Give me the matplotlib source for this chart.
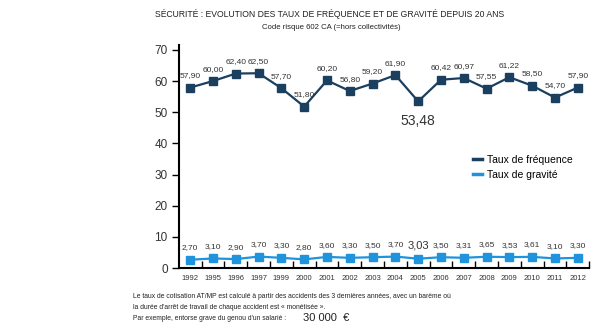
import matplotlib.pyplot as plt

years = ["1992", "1995", "1996", "1997", "1999", "2000", "2001", "2002", "2003",
         "2004", "2005", "2006", "2007", "2008", "2009", "2010", "2011", "2012"]
frequence = [57.90, 60.00, 62.40, 62.50, 57.70, 51.80, 60.20, 56.80, 59.20,
             61.90, 53.48, 60.42, 60.97, 57.55, 61.22, 58.50, 54.70, 57.90]
gravite = [2.70, 3.10, 2.90, 3.70, 3.30, 2.80, 3.60, 3.30, 3.50,
           3.70, 3.03, 3.50, 3.31, 3.65, 3.53, 3.61, 3.10, 3.30]

dark = "#1b3f5e"
light = "#1f93dc"
txt = "#333333"

plt.rcParams["font.family"] = ["Liberation Sans", "DejaVu Sans"]

fig = plt.figure(figsize=(6, 3.25), dpi=100)
ax = fig.add_axes([0.298, 0.175, 0.684, 0.686])

x = list(range(len(years)))
ax.plot(x, frequence, color=dark, lw=1.6, marker="s", ms=6, label="Taux de fréquence")
ax.plot(x, gravite, color=light, lw=1.6, marker="s", ms=6, label="Taux de gravité")


def fmt(v):
    return f"{v:.2f}".replace(".", ",")


for i, v in enumerate(frequence):
    if v == 53.48:
        ax.annotate(fmt(v), (i, v), xytext=(0, -9), textcoords="offset points",
                    ha="center", va="top", fontsize=10, color=txt)
    else:
        ax.annotate(fmt(v), (i, v), xytext=(0, 6), textcoords="offset points",
                    ha="center", va="bottom", fontsize=6, color=txt)

for i, v in enumerate(gravite):
    size = 8 if v == 3.03 else 6
    ax.annotate(fmt(v), (i, v), xytext=(0, 6), textcoords="offset points",
                ha="center", va="bottom", fontsize=size, color=txt)

ax.set_xlim(-0.5, len(years) - 0.5)
ax.set_ylim(0, 71.5)
ax.set_yticks(range(0, 71, 10))
ax.tick_params(axis="y", direction="out", length=5, width=1, labelsize=8.5,
               labelcolor=txt, pad=3)
ax.set_xticks(x)
ax.set_xticklabels(years, fontsize=5.5, color=txt)
ax.set_xticks([i + 0.5 for i in x], minor=True)
ax.tick_params(axis="x", which="major", length=0, pad=5)
ax.tick_params(axis="x", which="minor", direction="in", length=5, width=1)
for s in ["top", "right"]:
    ax.spines[s].set_visible(False)
ax.spines["left"].set_linewidth(1.5)
ax.spines["bottom"].set_linewidth(1.5)

ax.legend(loc="upper left", bbox_to_anchor=(0.695, 0.55), frameon=False,
          fontsize=7.5, handlelength=0.8, handletextpad=0.5, labelspacing=0.5)
leg = ax.get_legend()
for h in leg.legend_handles:
    h.set_marker("")
    h.set_linewidth(2.5)

fig.text(0.55, 0.958, "SÉCURITÉ : EVOLUTION DES TAUX DE FRÉQUENCE ET DE GRAVITÉ DEPUIS 20 ANS",
         ha="center", va="center", fontsize=6.2, color="#222222")
fig.text(0.552, 0.915, "Code risque 602 CA (=hors collectivités)",
         ha="center", va="center", fontsize=5.6, color="#222222")

fig.text(0.222, 0.089, "Le taux de cotisation AT/MP est calculé à partir des accidents des 3 dernières années, avec un barème où",
         ha="left", va="center", fontsize=4.9, color="#222222")
fig.text(0.222, 0.055, "la durée d'arrêt de travail de chaque accident est « monétisée ».",
         ha="left", va="center", fontsize=4.9, color="#222222")
fig.text(0.222, 0.021, "Par exemple, entorse grave du genou d'un salarié :",
         ha="left", va="center", fontsize=4.9, color="#222222")
fig.text(0.505, 0.021, "30 000  €", ha="left", va="center", fontsize=8, color="#222222")

fig.savefig("out.png", dpi=100)
